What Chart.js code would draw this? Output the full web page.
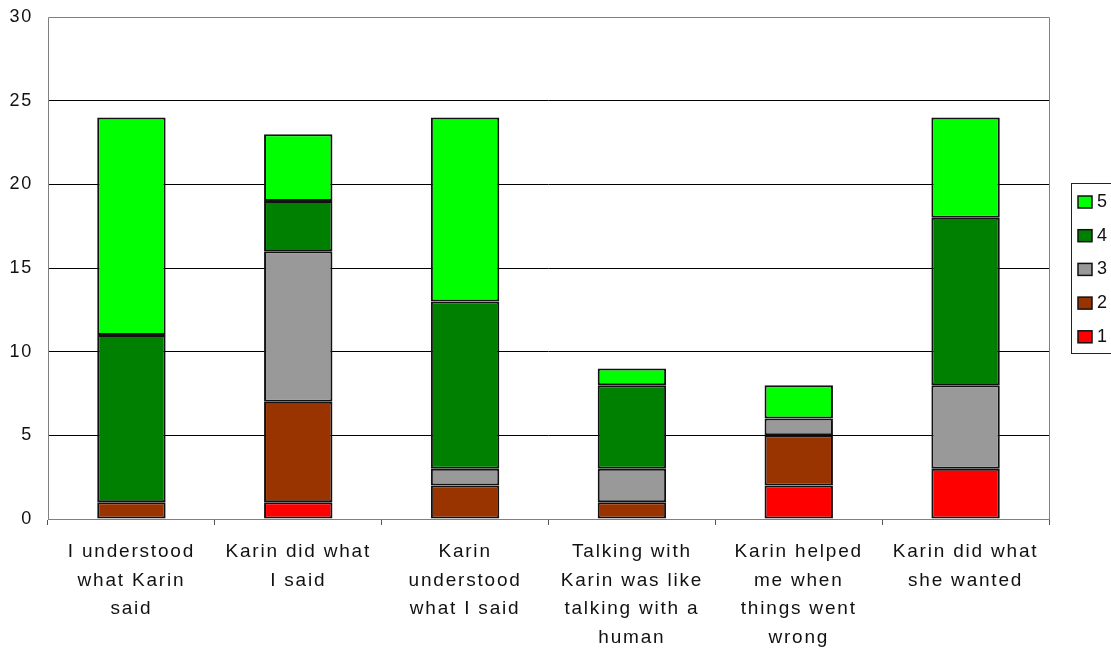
<!DOCTYPE html>
<html>
<head>
<meta charset="utf-8">
<script src="https://cdn.jsdelivr.net/npm/chart.js@4"></script>
<style>
  html, body { margin: 0; padding: 0; background: #fff; }
  #wrap { width: 1111px; height: 648px; position: relative; }
</style>
</head>
<body>
<div id="wrap"><canvas id="chart" width="1111" height="648"></canvas></div>
<script>
const categories = [
  ['I understood', 'what Karin', 'said'],
  ['Karin did what', 'I said'],
  ['Karin', 'understood', 'what I said'],
  ['Talking with', 'Karin was like', 'talking with a', 'human'],
  ['Karin helped', 'me when', 'things went', 'wrong'],
  ['Karin did what', 'she wanted']
];

// answer counts per rating, one array per rating level
const rating1 = [0, 1, 0, 0, 2, 3];
const rating2 = [1, 6, 2, 1, 3, 0];
const rating3 = [0, 9, 1, 2, 1, 5];
const rating4 = [10, 3, 10, 5, 0, 10];
const rating5 = [13, 4, 11, 1, 2, 6];

const yTicks = [0, 5, 10, 15, 20, 25, 30];

const colors = {
  '1': '#FF0000',
  '2': '#993300',
  '3': '#999999',
  '4': '#008000',
  '5': '#00FF00'
};

const FONT = '"Liberation Sans", Arial, sans-serif';

function makeSet(label, data) {
  return {
    label: label,
    data: data,
    backgroundColor: colors[label],
    borderColor: '#111',
    // empty segments get no outline
    borderWidth: ctx => (ctx.raw === 0 ? 0 : 2),
    borderSkipped: false,
    barPercentage: 0.41,
    categoryPercentage: 1.0
  };
}

// frame around the plot, letter spacing for the labels, and the boxed legend
const decor = {
  id: 'decor',
  beforeDraw(chart) {
    chart.ctx.letterSpacing = '1.8px';
  },
  afterDraw(chart) {
    const ctx = chart.ctx;
    const a = chart.chartArea;
    ctx.save();
    ctx.letterSpacing = '0px';
    ctx.strokeStyle = '#808080';
    ctx.lineWidth = 1;
    ctx.beginPath();
    ctx.moveTo(Math.round(a.left) + 0.5, Math.round(a.bottom) + 0.5);
    ctx.lineTo(Math.round(a.left) + 0.5, Math.round(a.top) + 0.5);
    ctx.lineTo(Math.round(a.right) + 0.5, Math.round(a.top) + 0.5);
    ctx.lineTo(Math.round(a.right) + 0.5, Math.round(a.bottom) + 0.5);
    ctx.stroke();

    // legend
    const lx = 1071.5, ly = 183.5, lw = 50, lh = 170;
    ctx.strokeStyle = '#222';
    ctx.strokeRect(lx, ly, lw, lh);
    const sets = chart.data.datasets.slice().reverse();
    ctx.font = '18px ' + FONT;
    ctx.textBaseline = 'middle';
    ctx.textAlign = 'left';
    sets.forEach((ds, i) => {
      const cy = 202 + i * 33.7;
      ctx.fillStyle = ds.backgroundColor;
      ctx.fillRect(1078, cy - 6, 14, 12);
      ctx.strokeStyle = '#111';
      ctx.lineWidth = 1.5;
      ctx.strokeRect(1078, cy - 6, 14, 12);
      ctx.fillStyle = '#111';
      ctx.fillText(ds.label, 1097, cy);
    });
    ctx.restore();
  }
};

new Chart(document.getElementById('chart'), {
  type: 'bar',
  data: {
    labels: categories,
    datasets: [
      makeSet('1', rating1),
      makeSet('2', rating2),
      makeSet('3', rating3),
      makeSet('4', rating4),
      makeSet('5', rating5)
    ]
  },
  options: {
    responsive: false,
    animation: false,
    layout: { padding: { top: 17, right: 62, left: 0, bottom: 0 } },
    plugins: {
      legend: { display: false },
      tooltip: { enabled: false }
    },
    scales: {
      x: {
        stacked: true,
        grid: {
          offset: true,
          drawOnChartArea: false,
          drawTicks: true,
          tickLength: 6,
          color: '#555'
        },
        border: { color: '#808080', width: 1 },
        ticks: {
          color: '#111',
          font: { family: FONT, size: 19, lineHeight: 1.5 },
          padding: 13,
          maxRotation: 0,
          autoSkip: false
        },
        afterFit(scale) { scale.height = 129; }
      },
      y: {
        stacked: true,
        min: 0,
        max: 30,
        afterBuildTicks(scale) {
          scale.ticks = yTicks.map(v => ({ value: v }));
        },
        grid: {
          drawTicks: false,
          color: ctx => (ctx.tick && (ctx.tick.value === 0 || ctx.tick.value === 30)) ? 'rgba(0,0,0,0)' : '#000',
          lineWidth: 1
        },
        border: { display: false },
        ticks: {
          color: '#111',
          font: { family: FONT, size: 18 },
          padding: 15
        },
        afterFit(scale) {
          scale.width = 48;
          scale.paddingTop = 0;
          scale.paddingBottom = 0;
        }
      }
    }
  },
  plugins: [decor]
});
</script>
</body>
</html>
